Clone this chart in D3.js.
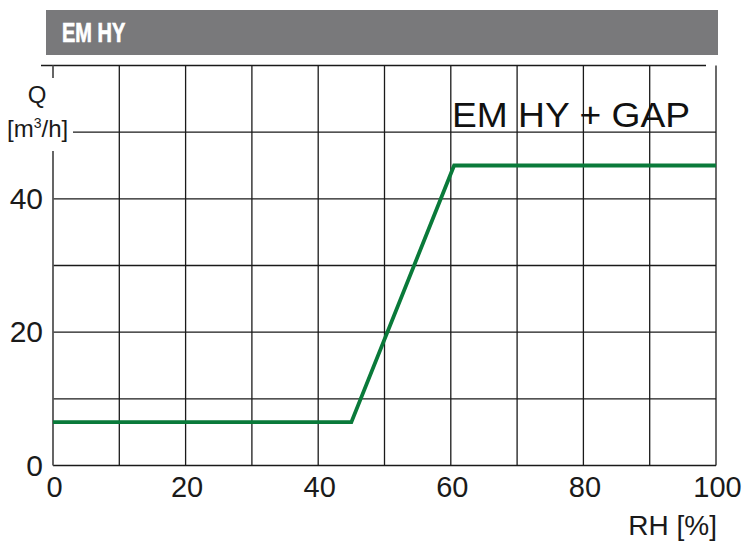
<!DOCTYPE html>
<html>
<head>
<meta charset="utf-8">
<script src="https://cdn.jsdelivr.net/npm/d3@7"></script>
<style>
body { margin: 0; background: #fff; }
svg { display: block; font-family: "Liberation Sans", Arial, sans-serif; }
</style>
</head>
<body>
<svg id="chart" width="744" height="541"></svg>
<script>
// curve
const rhValues = [0, 45, 60.5, 100];
const qValues = [6.5, 6.5, 45, 45];
const xTicks = [0, 20, 40, 60, 80, 100];
const yTicks = [0, 20, 40];
const xGrid = d3.range(10, 100, 10);
const yGrid = d3.range(10, 60, 10);
const title = "EM HY";
const seriesLabel = "EM HY + GAP";

let svg = d3.select("#chart");
let plotLeft = 53, plotRight = 716, plotTop = 65.5, plotBottom = 465.5;

let x = d3.scaleLinear().domain([0, 100]).range([plotLeft, plotRight]);
let y = d3.scaleLinear().domain([0, 60]).range([plotBottom, plotTop]);

// header bar
svg.append("rect")
    .attr("x", 46).attr("y", 10)
    .attr("width", 672).attr("height", 45)
    .attr("fill", "#79797b");
svg.append("text")
    .attr("transform", "translate(62,42) scale(0.74,1)")
    .attr("fill", "#fff")
    .style("font-weight", "bold")
    .style("font-size", "27px")
    .style("stroke", "#fff").style("stroke-width", 0.7)
    .text(title);

// vertical grid
svg.append("g").selectAll("line").data(xGrid).join("line")
    .attr("x1", d => x(d)).attr("x2", d => x(d))
    .attr("y1", plotTop).attr("y2", plotBottom)
    .attr("stroke", "#1a1a1a").attr("stroke-width", 1.3);

// horizontal grid (the 50 line starts after the unit label)
svg.append("g").selectAll("line").data(yGrid).join("line")
    .attr("x1", d => d === 50 ? 73 : plotLeft).attr("x2", plotRight)
    .attr("y1", d => y(d)).attr("y2", d => y(d))
    .attr("stroke", "#1a1a1a").attr("stroke-width", 1.3);

// frame
svg.append("line")
    .attr("x1", 41).attr("x2", 706).attr("y1", y(60)).attr("y2", y(60))
    .attr("stroke", "#1a1a1a").attr("stroke-width", 1.3);
svg.append("line")
    .attr("x1", plotRight).attr("x2", plotRight).attr("y1", y(60)).attr("y2", plotBottom)
    .attr("stroke", "#1a1a1a").attr("stroke-width", 1.3);
svg.append("line")
    .attr("x1", plotLeft).attr("x2", plotRight).attr("y1", plotBottom).attr("y2", plotBottom)
    .attr("stroke", "#1a1a1a").attr("stroke-width", 1.5);
// left axis, broken by the unit label
svg.append("line")
    .attr("x1", plotLeft).attr("x2", plotLeft).attr("y1", plotTop).attr("y2", 78)
    .attr("stroke", "#555").attr("stroke-width", 1.8);
svg.append("line")
    .attr("x1", plotLeft).attr("x2", plotLeft).attr("y1", 151).attr("y2", plotBottom)
    .attr("stroke", "#555").attr("stroke-width", 1.8);

// axis tick labels
svg.append("g").call(d3.axisBottom(x).tickValues(xTicks).tickSize(0).tickPadding(11))
    .attr("transform", "translate(1," + plotBottom + ")")
    .style("font-family", "'Liberation Sans', Arial, sans-serif")
    .style("font-size", "29px")
    .call(g => g.select(".domain").remove())
    .call(g => g.selectAll("text").attr("fill", "#1a1a1a"));
svg.append("g").call(d3.axisLeft(y).tickValues(yTicks).tickSize(0).tickPadding(10))
    .attr("transform", "translate(" + plotLeft + ",0)")
    .style("font-family", "'Liberation Sans', Arial, sans-serif")
    .style("font-size", "30px")
    .call(g => g.select(".domain").remove())
    .call(g => g.selectAll("text").attr("fill", "#1a1a1a"));

// axis titles
svg.append("text")
    .attr("x", 37).attr("y", 103)
    .attr("text-anchor", "middle")
    .style("font-size", "24px").attr("fill", "#1a1a1a")
    .text("Q");
let unit = svg.append("text")
    .attr("x", 7).attr("y", 137)
    .style("font-size", "24px").attr("fill", "#1a1a1a");
unit.append("tspan").text("[m");
unit.append("tspan").attr("dy", -9).style("font-size", "14px").text("3");
unit.append("tspan").attr("dy", 9).text("/h]");
svg.append("text")
    .attr("x", 717).attr("y", 535)
    .attr("text-anchor", "end")
    .style("font-size", "28px").attr("fill", "#1a1a1a")
    .text("RH [%]");

// series label
svg.append("text")
    .attr("x", 452).attr("y", 127)
    .attr("textLength", 238).attr("lengthAdjust", "spacingAndGlyphs")
    .style("font-size", "35px").attr("fill", "#111")
    .text(seriesLabel);

// curve
let data = rhValues.map((d, i) => ({rh: d, q: qValues[i]}));
svg.append("path")
    .datum(data)
    .attr("fill", "none")
    .attr("stroke", "#0a7a3a")
    .attr("stroke-width", 3.8)
    .attr("d", d3.line()
        .x(d => x(d.rh))
        .y(d => y(d.q)));
</script>
</body>
</html>
